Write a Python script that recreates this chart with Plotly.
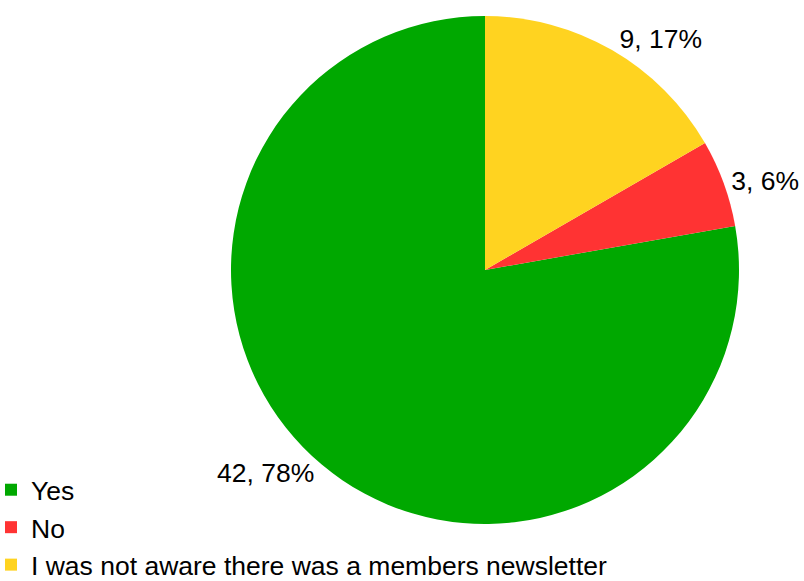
import plotly.graph_objects as go

# Survey responses
labels = ["Yes", "No", "I was not aware there was a members newsletter"]
counts = [42, 3, 9]
colors = ["#00A800", "#FF3333", "#FFD320"]

W, H = 804, 581
FONT = "Liberation Sans, Arial, sans-serif"

# Counter-clockwise layout; rotate so the last slice ends at 12 o'clock
total = sum(counts)
start_angle = 360 * (total - counts[0]) / total

fig = go.Figure(
    go.Pie(
        labels=labels,
        values=counts,
        sort=False,
        direction="counterclockwise",
        rotation=start_angle,
        marker=dict(colors=colors, line=dict(width=0)),
        texttemplate="%{value}, %{percent:.0%}",
        textposition="outside",
        textfont=dict(family=FONT, size=26.5, color="#000000"),
        domain=dict(x=[231 / W, 739 / W], y=[(H - 524) / H, (H - 16) / H]),
        hoverinfo="label+value+percent",
    )
)

fig.update_layout(
    width=W,
    height=H,
    margin=dict(l=0, r=0, t=0, b=0, autoexpand=False),
    paper_bgcolor="white",
    plot_bgcolor="white",
    font=dict(family=FONT, size=26.5, color="#000000"),
    legend=dict(
        x=-9 / W,
        y=-8 / H,
        xanchor="left",
        yanchor="bottom",
        bgcolor="rgba(0,0,0,0)",
        traceorder="normal",
        font=dict(size=26.5),
    ),
)

fig.write_html("out.html")
